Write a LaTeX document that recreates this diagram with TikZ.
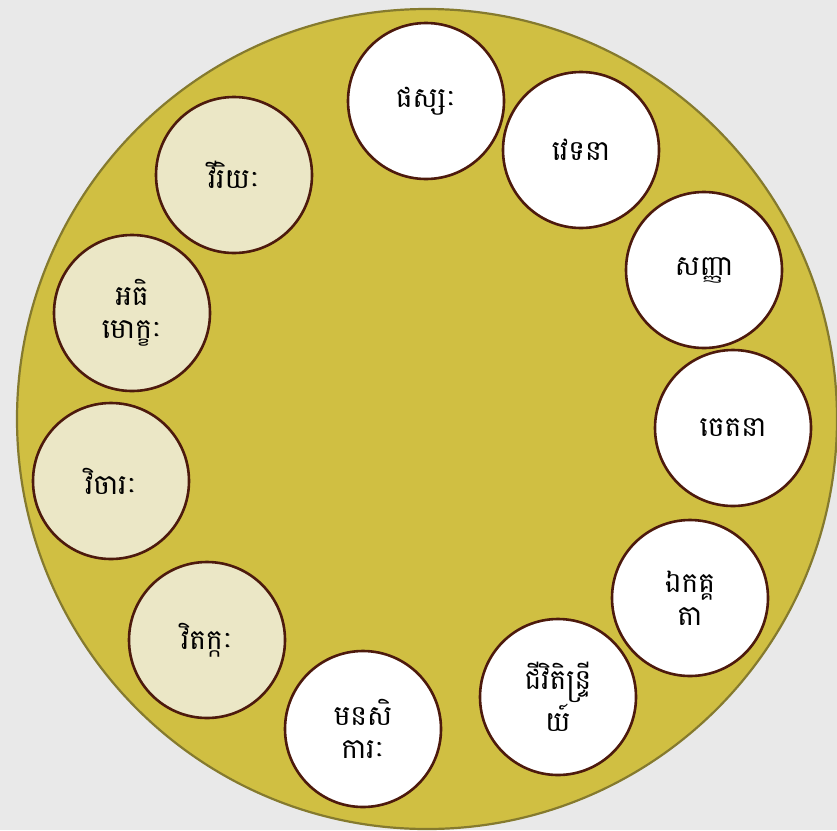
\documentclass[tikz,border=0pt]{standalone}
\usepackage{fontspec}
\newfontfamily\khmerfont[Script=Khmer]{Battambang}
\definecolor{bgcol}{HTML}{E9E9E9}
\definecolor{bigfill}{HTML}{D0BF42}
\definecolor{bigline}{HTML}{857A2E}
\definecolor{ringline}{HTML}{4D1A0D}
\definecolor{creamfill}{HTML}{EBE7C6}
\tikzset{
  factor/.style={circle, draw=ringline, line width=2.6pt, fill=white,
    minimum size=156pt, inner sep=0pt, align=center,
    font=\khmerfont\fontsize{28}{33}\selectfont, text=black},
  creamfactor/.style={factor, fill=creamfill}
}
\begin{document}
\begin{tikzpicture}[x=1pt,y=-1pt]
\fill[bgcol] (0,0) rectangle (837,830);
\useasboundingbox (0,0) rectangle (837,830);
\begin{scope}
\clip (0,0) rectangle (837,830);
\node[circle, draw=bigline, line width=2.2pt, fill=bigfill, minimum size=820pt, inner sep=0pt] (big) at (427,419) {};
\end{scope}
\node[factor] (phassa) at (426,101) {ផស្សៈ};
\node[factor] (vedana) at (581,150) {វេទនា};
\node[factor] (sanna) at (704,270) {សញ្ញា};
\node[factor] (cetana) at (733,428) {ចេតនា};
\node[factor] (ekaggata) at (690,598) {ឯកគ្គ\\តា};
\node[factor] (jivita) at (558,697) {ជីវិតិន្ទ្រី\\យ៍};
\node[factor] (manasi) at (363,729) {មនសិ\\ការៈ};
\node[creamfactor] (vitakka) at (207,640) {វិតក្កៈ};
\node[creamfactor] (vicara) at (111,481) {វិចារៈ};
\node[creamfactor] (adhimokkha) at (132,313) {អធិ\\មោក្ខៈ};
\node[creamfactor] (viriya) at (234,175) {វីរិយៈ};
\end{tikzpicture}
\end{document}
